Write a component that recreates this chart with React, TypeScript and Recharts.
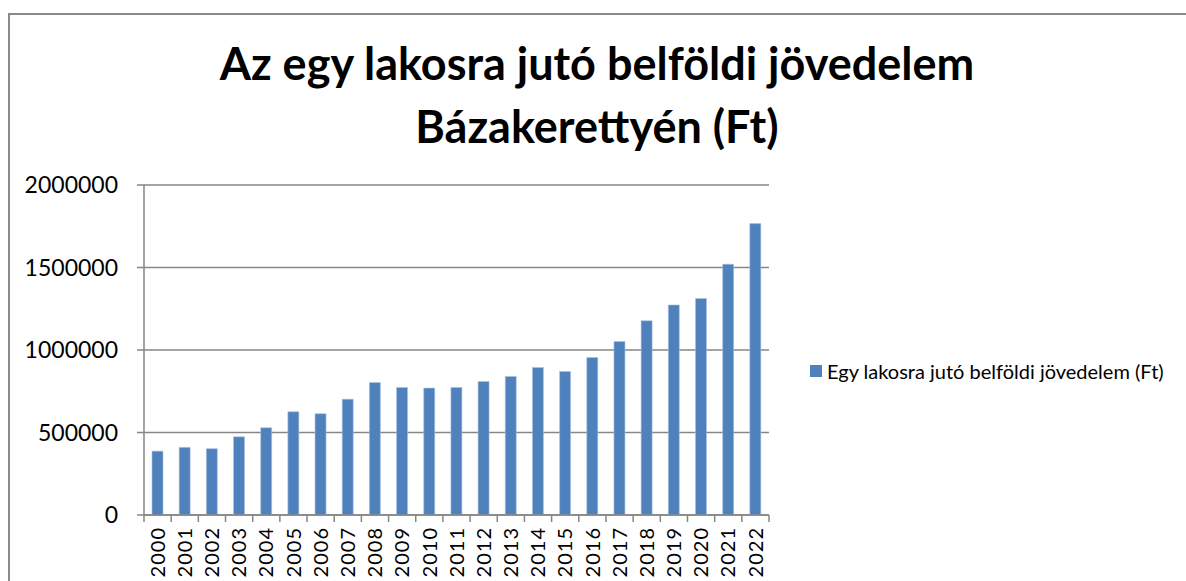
import React from "react";
import { BarChart, Bar, XAxis, YAxis, CartesianGrid } from "recharts";

const years = ["2000","2001","2002","2003","2004","2005","2006","2007","2008","2009","2010","2011","2012","2013","2014","2015","2016","2017","2018","2019","2020","2021","2022"];
const incomes = [387000,410000,402000,474000,529000,626000,614000,702000,803000,773000,769000,773000,809000,840000,894000,870000,955000,1051000,1177000,1273000,1312000,1520000,1766000];
const yTicks = [0, 500000, 1000000, 1500000, 2000000];
const titleLines = ["Az egy lakosra jutó belföldi jövedelem", "Bázakerettyén (Ft)"];
const seriesName = "Egy lakosra jutó belföldi jövedelem (Ft)";

const data = years.map((y, i) => ({ year: y, value: incomes[i] }));

const FONT = "Lato, 'Open Sans', sans-serif";
const GRID = "#868686";
const BAR = "#4F81BD";

const XTick = (props: any) => {
  const { x, y, payload, index } = props;
  const half = payload && typeof payload.offset === "number" ? payload.offset : 13.6;
  const isLast = index === years.length - 1;
  return (
    <g>
      <line x1={x - half} x2={x - half} y1={y} y2={y + 7} stroke={GRID} strokeWidth={1.5} />
      {isLast && <line x1={x + half} x2={x + half} y1={y} y2={y + 7} stroke={GRID} strokeWidth={1.5} />}
      <text
        x={x}
        y={y + 12}
        transform={`rotate(-90, ${x}, ${y + 12})`}
        textAnchor="end"
        dy="0.36em"
        fontSize={20}
        letterSpacing={1}
        fontFamily={FONT}
        fill="#000"
      >
        {payload.value}
      </text>
    </g>
  );
};

export default function App() {
  return (
    <div style={{ position: "absolute", left: 0, top: 0, width: 1186, height: 581, background: "#fff", overflow: "hidden" }}>
      <div style={{ position: "absolute", left: 8, top: 13, width: 1200, height: 600, borderTop: "2px solid #8a8a8a", borderLeft: "2px solid #8a8a8a" }} />
      <div style={{ position: "absolute", left: 0, width: 1194, top: 32, textAlign: "center", fontFamily: FONT, fontWeight: 700, fontSize: 45, lineHeight: "63px", color: "#000" }}>
        <div>{titleLines[0]}</div>
        <div>{titleLines[1]}</div>
      </div>
      <div style={{ position: "absolute", left: 0, top: 0 }}>
        <BarChart width={1186} height={581} data={data} margin={{ top: 185, right: 417, left: 10, bottom: 0 }}>
          <CartesianGrid horizontal={true} vertical={false} stroke={GRID} strokeWidth={1.5} />
          <XAxis
            dataKey="year"
            height={66}
            tickLine={false}
            tickSize={0}
            tickMargin={0}
            axisLine={{ stroke: GRID, strokeWidth: 1.5 }}
            tick={<XTick />}
            interval={0}
          />
          <YAxis
            width={134}
            domain={[0, 2000000]}
            ticks={yTicks}
            tickSize={7}
            tickMargin={19}
            tickLine={{ stroke: GRID, strokeWidth: 1.5 }}
            axisLine={{ stroke: GRID, strokeWidth: 1.5 }}
            tick={{ fontSize: 23, fill: "#000", fontFamily: FONT }}
            tickFormatter={(v: number) => String(v)}
            interval={0}
          />
          <Bar dataKey="value" name={seriesName} fill={BAR} stroke="#A9C2E0" strokeWidth={0.6} barSize={11} isAnimationActive={false} />
        </BarChart>
      </div>
      <div style={{ position: "absolute", left: 810, top: 359, display: "flex", alignItems: "center", fontFamily: FONT, fontSize: 20, color: "#000" }}>
        <span style={{ display: "inline-block", width: 12, height: 12, background: BAR, marginRight: 5 }} />
        <span>{seriesName}</span>
      </div>
    </div>
  );
}
